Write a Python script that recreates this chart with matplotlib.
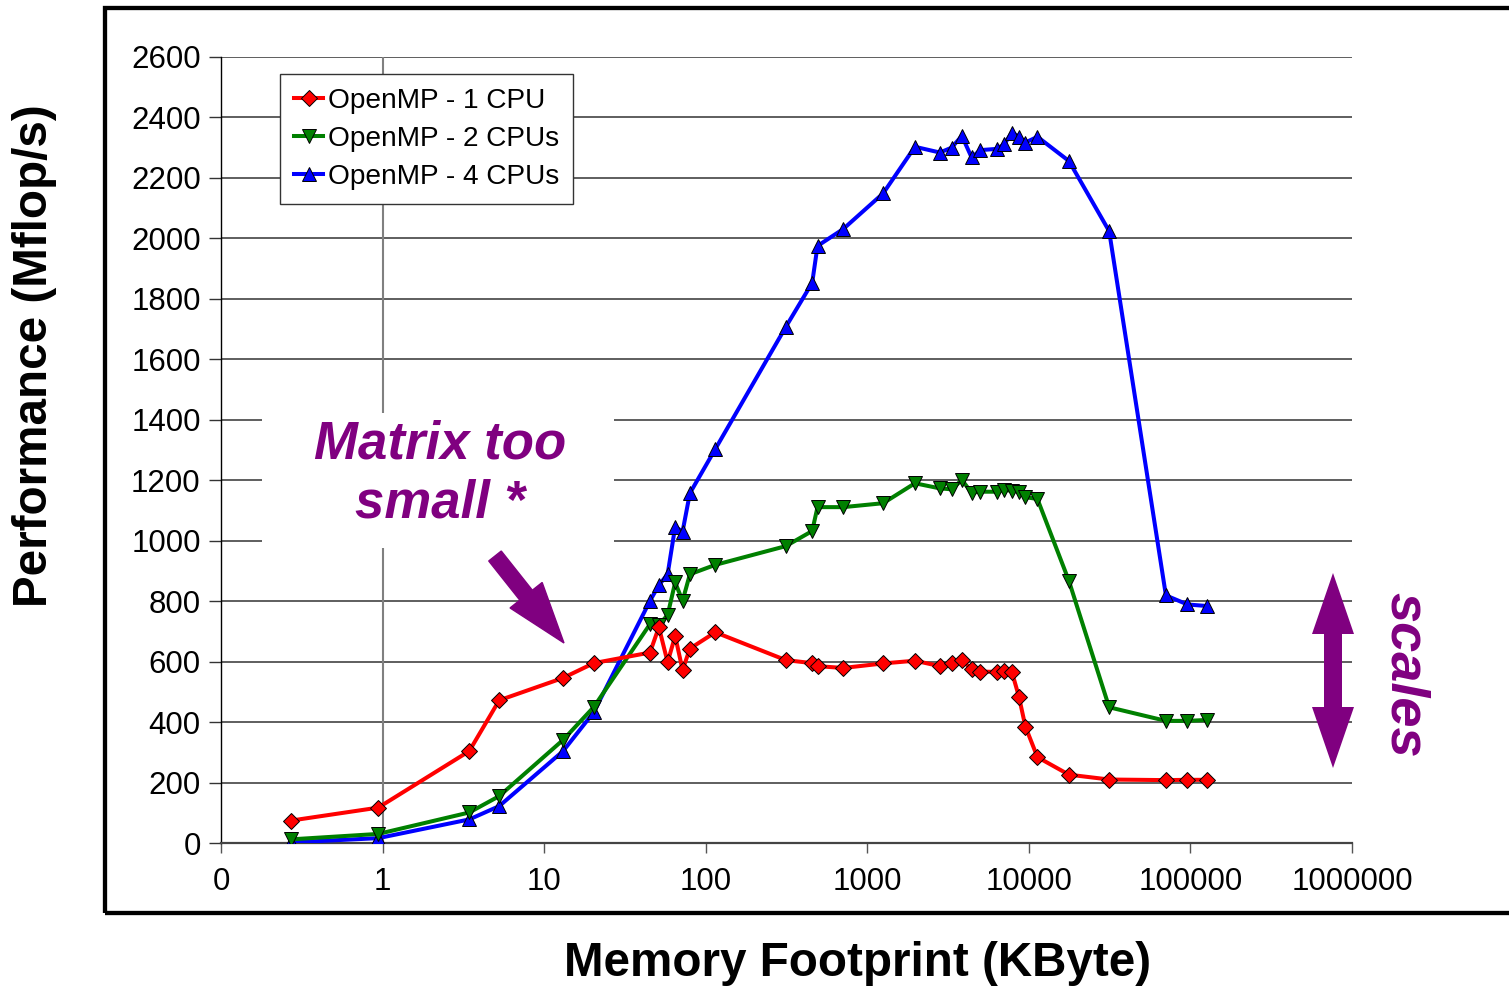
import matplotlib
matplotlib.use('Agg')
import matplotlib.pyplot as plt
import matplotlib.patches as mpatches
import matplotlib.transforms as mtrans
from matplotlib.ticker import FixedLocator, FixedFormatter, NullLocator

plt.rcParams['font.family'] = ['Liberation Sans', 'DejaVu Sans']

# ---------------- data ----------------
footprint_kb = [0.27, 0.94, 3.44, 5.27, 13.1, 20.3, 45.2, 51.3, 58.1, 64.7, 71.9, 79.8,
                114.6, 313, 456, 492, 710, 1254, 1972, 2813, 3325, 3850, 4420, 5020,
                6310, 7030, 7850, 8680, 9520, 11300, 17700, 31400, 70500, 95900, 126000]

cpu1 = [74, 117, 304, 472, 546, 595, 630, 714, 598, 685, 572, 643,
        697, 605, 595, 585, 579, 594, 603, 585, 595, 605, 575, 567,
        566, 570, 566, 484, 385, 284, 226, 210, 208, 209, 209]

cpu2 = [12, 30, 101, 155, 341, 450, 724, 722, 754, 862, 801, 889,
        920, 982, 1032, 1111, 1111, 1124, 1190, 1173, 1170, 1201, 1159, 1162,
        1162, 1168, 1165, 1162, 1144, 1138, 867, 449, 404, 404, 407]

cpu4 = [2, 16, 78, 122, 304, 433, 801, 853, 889, 1046, 1030, 1157,
        1303, 1707, 1853, 1975, 2031, 2149, 2303, 2284, 2300, 2339, 2268, 2292,
        2296, 2311, 2350, 2337, 2317, 2336, 2256, 2024, 819, 789, 784]

series_labels = ['OpenMP - 1 CPU', 'OpenMP - 2 CPUs', 'OpenMP - 4 CPUs']
x_tick_values = [0.1, 1, 10, 100, 1000, 10000, 100000, 1000000]
x_tick_labels = ['0', '1', '10', '100', '1000', '10000', '100000', '1000000']
y_ticks = list(range(0, 2601, 200))

# ---------------- figure ----------------
W, H = 1509, 988
fig = plt.figure(figsize=(W / 100, H / 100), dpi=100)
ax = fig.add_axes([221 / W, 1 - 843 / H, (1352 - 221) / W, (843 - 57) / H])
ident = mtrans.IdentityTransform()


def P(x, y):
    return (x, H - y)


purple = '#800080'

# grid
for v in y_ticks[1:]:
    ax.axhline(v, color='#333333', lw=1.1, zorder=1)
ax.axvline(1, color='#808080', lw=1.5, zorder=1)

ax.plot(footprint_kb, cpu1, color='#FF0000', lw=2.9, marker='D', ms=8.3,
        mfc='#FF0000', mec='black', mew=0.7, label=series_labels[0], zorder=3.3)
ax.plot(footprint_kb, cpu2, color='#008000', lw=2.9, marker='v', ms=10.5,
        mfc='#008000', mec='black', mew=0.7, label=series_labels[1], zorder=3.2)
ax.plot(footprint_kb, cpu4, color='#0000FF', lw=2.9, marker='^', ms=10.5,
        mfc='#0000FF', mec='black', mew=0.7, label=series_labels[2], zorder=3.1)

ax.set_xscale('log')
ax.set_xlim(0.1, 1e6)
ax.set_ylim(0, 2600)
ax.xaxis.set_major_locator(FixedLocator(x_tick_values))
ax.xaxis.set_major_formatter(FixedFormatter(x_tick_labels))
ax.xaxis.set_minor_locator(NullLocator())
ax.set_yticks(y_ticks)
ax.tick_params(axis='y', length=8.6, width=1.0, color='#333333', direction='out',
               labelsize=22.5, pad=6)
ax.tick_params(axis='x', length=7.2, width=1.0, color='#555555', direction='out',
               labelsize=22.5, pad=10)

for s in ['top', 'right']:
    ax.spines[s].set_visible(False)
ax.spines['left'].set_color('black')
ax.spines['left'].set_linewidth(1.0)
ax.spines['bottom'].set_color('#444444')
ax.spines['bottom'].set_linewidth(1.6)

leg = ax.legend(loc='upper left', bbox_to_anchor=(280 / W, 1 - 74 / H),
                bbox_transform=fig.transFigure, borderaxespad=0, fontsize=20.2,
                frameon=True, fancybox=False, edgecolor='#333333', framealpha=1,
                handlelength=1.05, handletextpad=0.15, labelspacing=0.43,
                borderpad=0.5, markerscale=0.95)
leg.get_frame().set_linewidth(1.0)
leg.set_zorder(5)

# white box behind annotation text
fig.add_artist(mpatches.Rectangle(P(262, 548), 352, 135, transform=ident,
                                  facecolor='white', edgecolor='none', zorder=1))
fig.text(440 / W, 1 - 474 / H, 'Matrix too\nsmall *', ha='center', va='center',
         fontsize=38, fontweight='bold', fontstyle='italic', color=purple,
         linespacing=1.22, zorder=2)

# arrow for "matrix too small"
tail = P(495, 556)
fig.add_artist(mpatches.FancyArrow(tail[0], tail[1], 69, -87, width=16,
                                   head_width=41, head_length=61,
                                   length_includes_head=True, transform=ident,
                                   color=purple, zorder=2))

# double arrow "scales"
pts = [(1333, 573), (1354, 634), (1342, 634), (1342, 707), (1354, 707), (1333, 768),
       (1312, 707), (1324, 707), (1324, 634), (1312, 634)]
fig.add_artist(mpatches.Polygon([P(x, y) for x, y in pts], closed=True,
                                transform=ident, facecolor=purple,
                                edgecolor='none', zorder=2))
fig.text(1405 / W, 1 - 675 / H, 'scales', rotation=-90, ha='center', va='center',
         fontsize=39, fontweight='bold', fontstyle='italic', color=purple, zorder=2)

# outer frame
fig.add_artist(mpatches.Rectangle(P(104.5, 912.5), 1420, 904.5, transform=ident,
                                  fill=False, edgecolor='black', lw=3.1, zorder=3))

# axis titles
fig.text(35 / W, 1 - 356 / H, 'Performance (Mflop/s)', rotation=90, ha='center',
         va='center', fontsize=34.3, fontweight='bold')
fig.text(858 / W, 1 - 963 / H, 'Memory Footprint (KByte)', ha='center',
         va='center', fontsize=34.3, fontweight='bold')

fig.savefig('out.png', dpi=100)
